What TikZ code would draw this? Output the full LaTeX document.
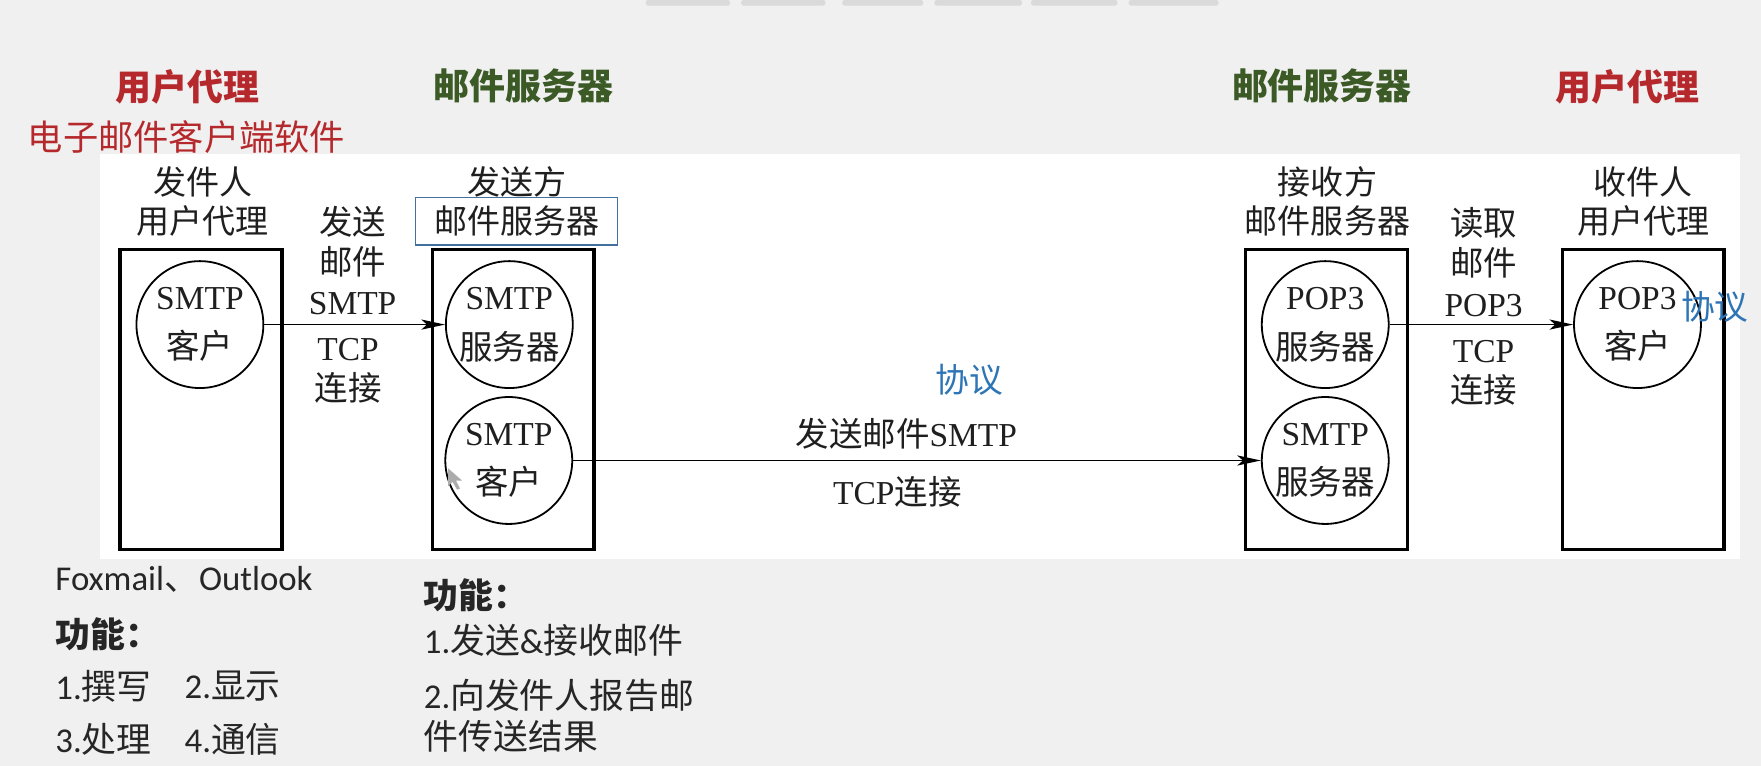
\documentclass[tikz,border=0pt]{standalone}
\usepackage{fontspec}
\setmainfont{Liberation Serif}
\newfontfamily\cjk{Noto Sans CJK SC}
\newfontfamily\cali{Carlito}
\usetikzlibrary{arrows.meta}
\definecolor{bggray}{HTML}{F0F0F0}
\definecolor{tabgray}{HTML}{DADADA}
\definecolor{hred}{HTML}{B5282C}
\definecolor{hgreen}{HTML}{3B5A26}
\definecolor{pblue}{HTML}{2E75B6}
\definecolor{framebl}{HTML}{41719C}
\newcommand\zh[1]{{\cjk #1}}
\tikzset{
  dtext/.style={font=\fontsize{14.9}{18}\selectfont, align=center, inner sep=0pt, text=black!88},
  ttext/.style={font=\fontsize{14.7}{17.5}\selectfont, align=center, inner sep=0pt, text=black!88},
  agent/.style={draw, line width=1.5pt, minimum width=72pt, minimum height=133.5pt, inner sep=0pt},
  proc/.style={circle, draw, line width=0.8pt, minimum size=56.5pt, inner sep=0pt, align=center,
               font=\fontsize{14.9}{22}\selectfont, text=black!88},
  link/.style={line width=0.8pt, -{Stealth[length=10.5pt,width=4.5pt,inset=2.5pt]}},
  hdr/.style={font=\fontsize{16}{16}\selectfont\bfseries, inner sep=0pt},
  hsub/.style={font=\fontsize{15.7}{16}\selectfont, inner sep=0pt, text=hred},
  proto/.style={font=\fontsize{15}{15}\selectfont, inner sep=0pt, text=pblue},
  btext/.style={font=\fontsize{15.5}{18}\selectfont\cali, anchor=west, inner sep=0pt, text=black!85}
}
\begin{document}
\begin{tikzpicture}[x=0.5pt,y=-0.5pt]
\fill[bggray] (0,0) rectangle (1568,682);
\useasboundingbox (0,0) rectangle (1568,682);
\fill[white] (89,137) rectangle (1549,498);
\foreach \a/\b in {575/650,660/735,750/822,832/910,918/995,1005/1085}
  \fill[tabgray, rounded corners=1pt] (\a,0) rectangle (\b,5);

% headers
\node[hdr,text=hred] (h1) at (167,77) {\zh{用户代理}};
\node[hsub] (h1s) at (166,122) {\zh{电子邮件客户端软件}};
\node[hdr,text=hgreen] (h2) at (466,76) {\zh{邮件服务器}};
\node[hdr,text=hgreen] (h3) at (1177,76) {\zh{邮件服务器}};
\node[hdr,text=hred] (h4) at (1449,77) {\zh{用户代理}};

% boxes
\node[agent] (ua1) at (179,355.5) {};
\node[agent] (ms1) at (457,355.5) {};
\node[agent] (ms2) at (1181,355.5) {};
\node[agent] (ua2) at (1463,355.5) {};

% titles
\node[ttext] (t1) at (180.5,179.5) {\zh{发件人}\\\zh{用户代理}};
\node[ttext] (t2) at (460,162) {\zh{发送方}};
\node[ttext, draw=framebl, line width=0.6pt, minimum width=90pt, minimum height=21pt] (t2b) at (460,197) {\zh{邮件服务器}};
\node[ttext] (t3) at (1182,179.5) {\zh{接收方}\\\zh{邮件服务器}};
\node[ttext] (t4) at (1463,179.5) {\zh{收件人}\\\zh{用户代理}};

% processes
\node[proc] (c1) at (178,289) {SMTP\\\zh{客户}};
\node[proc] (c2) at (453.5,289) {SMTP\\\zh{服务器}};
\node[proc] (c3) at (453,410) {SMTP\\\zh{客户}};
\node[proc] (c4) at (1180,289) {POP3\\\zh{服务器}};
\node[proc] (c5) at (1180,410) {SMTP\\\zh{服务器}};
\node[proc] (c6) at (1458,289) {POP3\\\zh{客户}};

% connectors
\draw[link] (c1) -- (c2);
\draw[link] (c3) -- (c5);
\draw[link] (c4) -- (c6);

% connector labels
\node[dtext] (l1a) at (314,232) {\zh{发送}\\\zh{邮件}\\SMTP};
\node[dtext] (l1b) at (310,330) {TCP\\\zh{连接}};
\node[dtext] (l2a) at (1321,233) {\zh{读取}\\\zh{邮件}\\POP3};
\node[dtext] (l2b) at (1321,332) {TCP\\\zh{连接}};
\node[dtext] (l3a) at (807,386) {\zh{发送邮件}SMTP};
\node[dtext] (l3b) at (799,438) {TCP\zh{连接}};
\node[proto] (p1) at (863,338) {\zh{协议}};
\node[proto] (p2) at (1527,273) {\zh{协议}};

% cursor
\fill[gray!65] (399,417) -- (399,433) -- (403,429) -- (407,436) -- (409.5,435) -- (406,428) -- (411.5,428) -- cycle;

% bottom notes
\node[btext] (b1) at (49,516) {Foxmail\zh{、}Outlook};
\node[btext] (b2) at (49,565) {\zh{\bfseries 功能：}};
\node[btext] (b3) at (49,611) {1.\zh{撰写}};
\node[btext] (b4) at (164,611) {2.\zh{显示}};
\node[btext] (b5) at (49,658) {3.\zh{处理}};
\node[btext] (b6) at (164,658) {4.\zh{通信}};
\node[btext] (b7) at (377,530) {\zh{\bfseries 功能：}};
\node[btext] (b8) at (377,570) {1.\zh{发送}\&\zh{接收邮件}};
\node[btext] (b9) at (377,619) {2.\zh{向发件人报告邮}};
\node[btext] (b10) at (377,656) {\zh{件传送结果}};
\end{tikzpicture}
\end{document}
